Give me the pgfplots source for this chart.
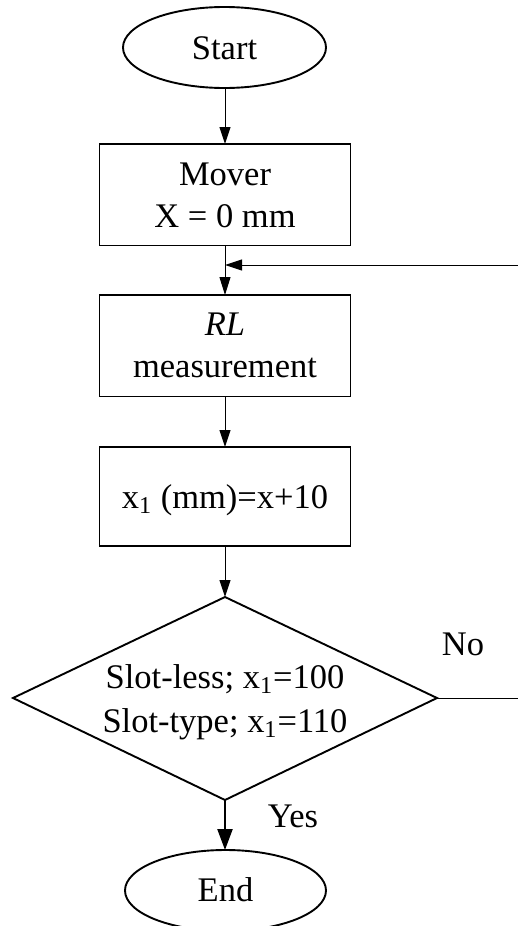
\documentclass[border=0pt]{standalone}
\usepackage{fontspec}
\setmainfont{Liberation Serif}
\usepackage{pgfplots}
\pgfplotsset{compat=1.18}
\usetikzlibrary{arrows.meta}

\begin{document}
\begin{tikzpicture}
    % flowchart drawn in pixel units of the reference (y grows downwards)
    \begin{axis}[
        width=259pt,
        height=463pt,
        scale only axis,
        xmin=0, xmax=518,
        ymin=0, ymax=926,
        y dir=reverse,
        hide axis,
        clip=true,
        no markers,
        every axis plot/.append style={black, line width=0.5pt},
        nodes={font=\fontsize{17.25}{21}\selectfont, inner sep=0pt},
        ]
        \coordinate (sw) at (axis cs:0,926);
        \coordinate (ne) at (axis cs:518,0);

        % boxes
        \addplot[line width=0.95pt] coordinates {(99.5,144) (350.5,144) (350.5,245.5) (99.5,245.5)} -- cycle;
        \addplot[line width=0.95pt] coordinates {(99.5,295) (350.5,295) (350.5,396.5) (99.5,396.5)} -- cycle;
        \addplot[line width=0.95pt] coordinates {(99.5,447) (350.5,447) (350.5,546) (99.5,546)} -- cycle;
        % decision diamond
        \addplot[line width=0.95pt] coordinates {(225,597) (437,698) (225,800) (13,698)} -- cycle;

        % start / end
        \draw[line width=0.95pt] (axis cs:224.5,47.5) ellipse [x radius=101.5, y radius=40.5];
        \draw[line width=0.95pt] (axis cs:225.5,890.5) ellipse [x radius=100.5, y radius=40.5];

        % arrows
        \addplot[-{Triangle[length=8.5pt,width=5.5pt]}] coordinates {(225,88) (225,144)};
        \addplot[-{Triangle[length=9pt,width=5.5pt]}] coordinates {(225,245.5) (225,295)};
        \addplot[-{Triangle[length=8.5pt,width=5.5pt]}] coordinates {(518,265) (225,265)};
        \addplot[-{Triangle[length=8.5pt,width=5.5pt]}] coordinates {(225,396.5) (225,447)};
        \addplot[-{Triangle[length=8.5pt,width=5.5pt]}] coordinates {(225,546) (225,597)};
        \addplot[black] coordinates {(437,698) (518,698)};
        \addplot[line width=1.1pt, -{Triangle[length=10.5pt,width=7.5pt]}] coordinates {(225,800) (225,850)};

        % texts
        \node[anchor=base] at (axis cs:224.5,59) {Start};
        \node[anchor=base] at (axis cs:225,185) {Mover};
        \node[anchor=base] at (axis cs:225,227) {X = 0 mm};
        \node[anchor=base] at (axis cs:225,335) {\textit{RL}};
        \node[anchor=base] at (axis cs:225,377) {measurement};
        \node[anchor=base] at (axis cs:225,508) {x\textsubscript{1} (mm)=x+10};
        \node[anchor=base] at (axis cs:225,688) {Slot-less; x\textsubscript{1}=100};
        \node[anchor=base] at (axis cs:225,732) {Slot-type; x\textsubscript{1}=110};
        \node[anchor=base] at (axis cs:463,655) {No};
        \node[anchor=base] at (axis cs:293,827) {Yes};
        \node[anchor=base] at (axis cs:225.5,901) {End};
    \end{axis}
    \pgfresetboundingbox
    \path[use as bounding box] (sw) rectangle (ne);
\end{tikzpicture}
\end{document}
